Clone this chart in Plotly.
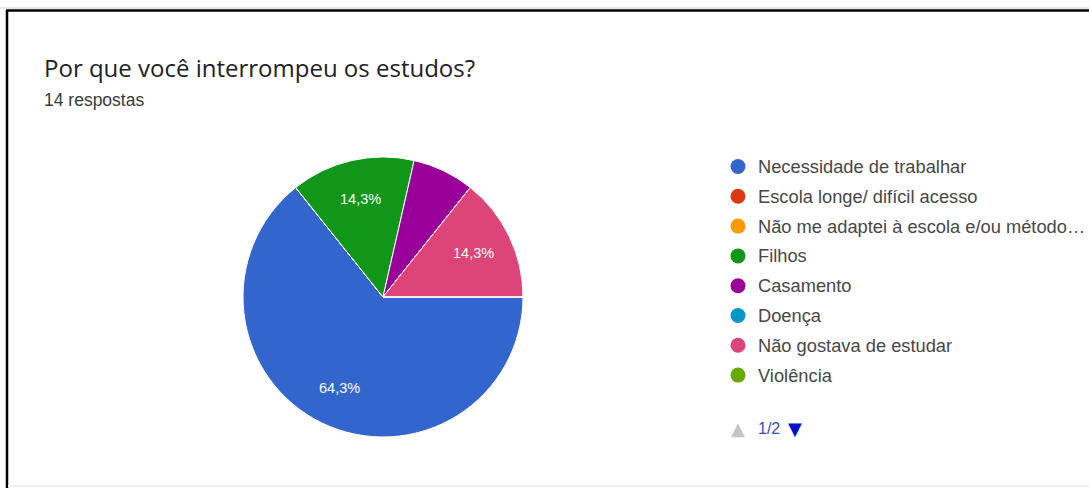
import math
import plotly.graph_objects as go

# Survey answers and response counts (14 responses)
categories = [
    "Necessidade de trabalhar",
    "Escola longe/ difícil acesso",
    "Não me adaptei à escola e/ou método…",
    "Filhos",
    "Casamento",
    "Doença",
    "Não gostava de estudar",
    "Violência",
]
counts = [9, 0, 0, 2, 1, 0, 2, 0]
colors = ["#3366cc", "#dc3912", "#ff9900", "#109618", "#990099", "#0099c6", "#dd4477", "#66aa00"]

title_text = "Por que você interrompeu os estudos?"
subtitle_text = "14 respostas"

W, H = 1089, 488
total = sum(counts)


def pct_label(v):
    share = v / total * 100
    # slices below ~10% are left unlabeled
    return f"{share:.1f}%".replace(".", ",") if share >= 10 else ""


fig = go.Figure()

# pie occupies a square region centred at (383, 297) px
cx, cy, r = 383, 297, 140
start_deg = 90  # first slice starts at 3 o'clock, running clockwise
fig.add_trace(go.Pie(
    labels=categories,
    values=counts,
    textinfo="none",
    marker=dict(colors=colors, line=dict(color="white", width=1)),
    sort=False,
    direction="clockwise",
    rotation=start_deg,
    showlegend=False,
    hoverinfo="label+percent",
    domain=dict(x=[(cx - r) / W, (cx + r) / W], y=[(H - cy - r) / H, (H - cy + r) / H]),
))

annotations = []

# percentage labels placed at each slice's mid-angle
acc = 0.0
for v in counts:
    mid = start_deg + (acc + v / 2) / total * 360
    acc += v
    txt = pct_label(v)
    if not txt:
        continue
    rad = math.radians(mid)
    annotations.append(dict(
        x=cx + 0.72 * r * math.sin(rad), y=cy - 0.72 * r * math.cos(rad),
        xref="x", yref="y", text=txt, showarrow=False,
        xanchor="center", yanchor="middle",
        font=dict(family="Arial, Liberation Sans", size=14.5, color="white"),
    ))

# legend drawn on a pixel-space overlay axis
leg_x, leg_y0, leg_dy = 738, 166.5, 29.8
leg_ys = [leg_y0 + i * leg_dy for i in range(len(categories))]
fig.add_trace(go.Scatter(
    x=[leg_x] * len(categories),
    y=leg_ys,
    mode="markers",
    marker=dict(size=15, color=colors, line=dict(width=0)),
    hoverinfo="skip",
    showlegend=False,
))

for name, y in zip(categories, leg_ys):
    annotations.append(dict(
        x=756, y=y, xref="x", yref="y", text=name, showarrow=False,
        xanchor="left", yanchor="middle",
        font=dict(family="Arial, Liberation Sans", size=18.3, color="#474747"),
    ))

# legend pager
annotations.append(dict(
    x=738, y=428, xref="x", yref="y", showarrow=False, xanchor="center", yanchor="middle",
    text="▲", font=dict(family="DejaVu Sans", size=18, color="#c4c4c4"),
))
annotations.append(dict(
    x=756, y=428, xref="x", yref="y", showarrow=False, xanchor="left", yanchor="middle",
    text="1/2", font=dict(family="Arial, Liberation Sans", size=16, color="#3b4aa8"),
))
annotations.append(dict(
    x=795, y=428, xref="x", yref="y", showarrow=False, xanchor="center", yanchor="middle",
    text="▼", font=dict(family="DejaVu Sans", size=18, color="#0011cc"),
))

# title block
annotations.append(dict(
    x=42, y=67, xref="x", yref="y", text=title_text, showarrow=False,
    xanchor="left", yanchor="middle",
    font=dict(family="Open Sans", size=24, color="#202124"),
))
annotations.append(dict(
    x=42, y=100, xref="x", yref="y", text=subtitle_text, showarrow=False,
    xanchor="left", yanchor="middle",
    font=dict(family="Arial, Liberation Sans", size=17.5, color="#3a3a3a"),
))

shapes = [
    dict(type="line", xref="x", yref="y", x0=0, x1=W, y0=8, y1=8, line=dict(color="#d0d0d0", width=1)),
    dict(type="line", xref="x", yref="y", x0=6, x1=W, y0=10.5, y1=10.5, line=dict(color="black", width=2.5)),
    dict(type="line", xref="x", yref="y", x0=7, x1=7, y0=10, y1=H, line=dict(color="black", width=2.5)),
    dict(type="line", xref="x", yref="y", x0=8, x1=W, y0=486, y1=486, line=dict(color="#eeeeee", width=2)),
]

fig.update_layout(
    width=W, height=H, autosize=False,
    margin=dict(l=0, r=0, t=0, b=0),
    paper_bgcolor="white", plot_bgcolor="rgba(0,0,0,0)",
    xaxis=dict(range=[0, W], visible=False, fixedrange=True),
    yaxis=dict(range=[H, 0], visible=False, fixedrange=True),
    annotations=annotations,
    shapes=shapes,
)

fig.write_html("out.html")
